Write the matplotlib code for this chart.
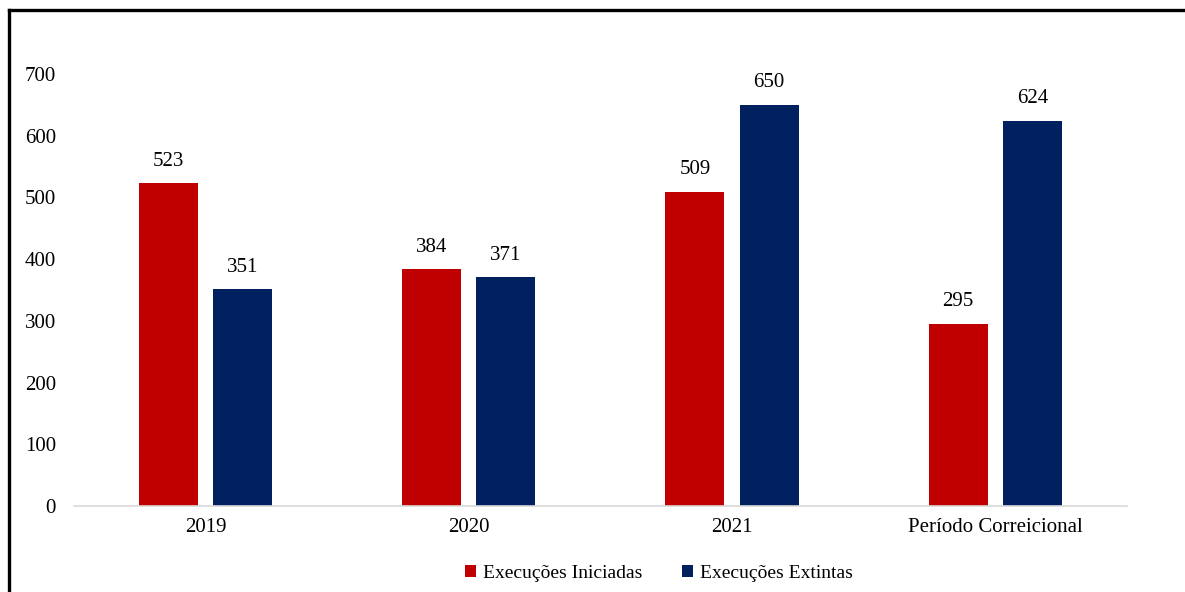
import numpy as np
import matplotlib.pyplot as plt
from matplotlib.lines import Line2D

categories = ['2019', '2020', '2021', 'Período Correicional']
iniciadas = [523, 384, 509, 295]
extintas = [351, 371, 650, 624]

plt.rcParams['font.family'] = ['Liberation Serif', 'DejaVu Serif']

fig = plt.figure(figsize=(11.85, 5.92), dpi=100)
ax = fig.add_axes([0.0624, 0.1453, 0.8886, 0.7297])

x = np.arange(len(categories))
w = 0.224
off = 0.141
b1 = ax.bar(x - off, iniciadas, w, color='#C00000', label='Execuções Iniciadas')
b2 = ax.bar(x + off, extintas, w, color='#002060', label='Execuções Extintas')

for bars, vals in [(b1, iniciadas), (b2, extintas)]:
    for r, v in zip(bars, vals):
        ax.annotate(str(v), (r.get_x() + r.get_width() / 2, v), xytext=(0, 9),
                    textcoords='offset points', ha='center', va='bottom',
                    fontsize=15, clip_on=False)

ax.set_xlim(-0.5, len(categories) - 0.5)
ax.set_ylim(0, 700)
ax.set_yticks(range(0, 701, 100))
ax.set_xticks(x)
ax.set_xticklabels(categories)
ax.tick_params(axis='both', length=0, labelsize=15)
ax.tick_params(axis='y', pad=13)
ax.tick_params(axis='x', pad=9)
for s in ['top', 'right', 'left']:
    ax.spines[s].set_visible(False)
ax.spines['bottom'].set_color('#D9D9D9')
ax.spines['bottom'].set_linewidth(1.2)

fig.legend(handles=[b1, b2], loc='center', bbox_to_anchor=(0.556, 0.032),
           ncol=2, frameon=False, fontsize=14, handlelength=0.6,
           handleheight=0.6, columnspacing=2.0, handletextpad=0.35)

# border lines at left and top of the picture
fig.add_artist(Line2D([0.0072, 0.0072], [0, 0.983], color='black', lw=2.4,
                      transform=fig.transFigure, solid_capstyle='projecting'))
fig.add_artist(Line2D([0.0072, 1], [0.983, 0.983], color='black', lw=2.4,
                      transform=fig.transFigure, solid_capstyle='projecting'))

fig.savefig('out.png', dpi=100)
